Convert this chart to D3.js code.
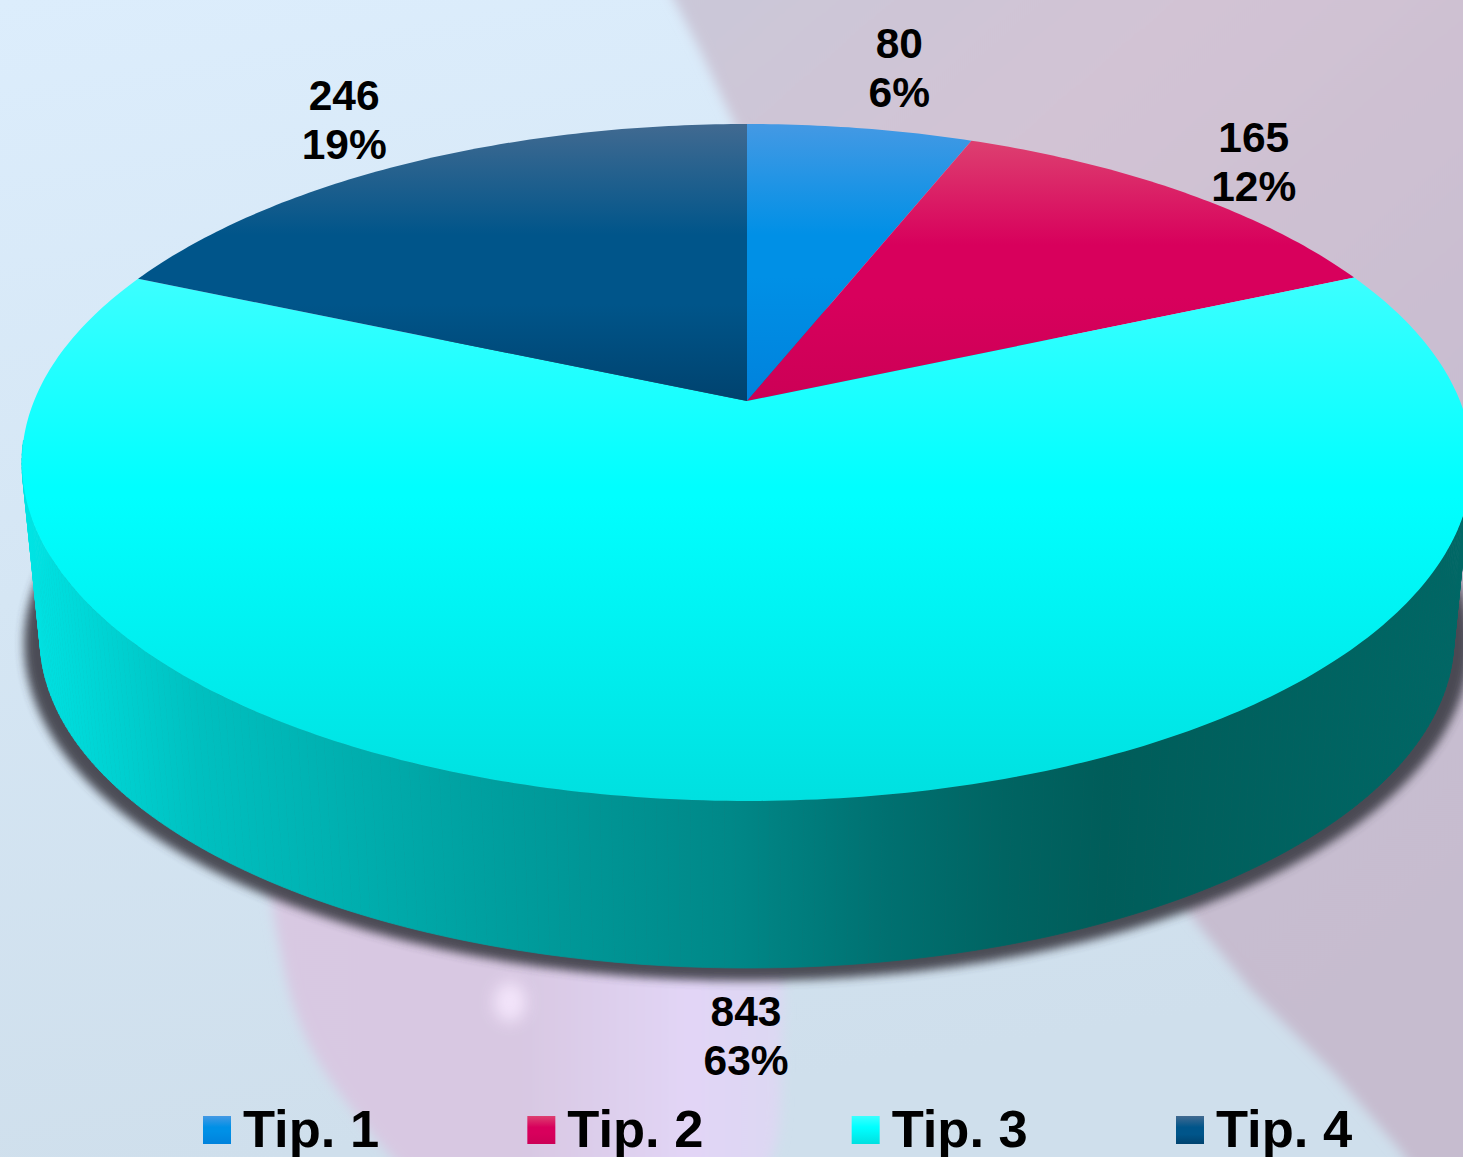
<!DOCTYPE html>
<html><head><meta charset="utf-8">
<script src="https://cdn.jsdelivr.net/npm/d3@7/dist/d3.min.js"></script>
<style>html,body{margin:0;padding:0;overflow:hidden;background:#d6e6f4}svg{display:block}text{font-family:"Liberation Sans",Arial,sans-serif;font-weight:700;fill:#000}</style>
</head><body><svg id="c" width="1463" height="1157"></svg>
<script>
const categories = ["Tip. 1", "Tip. 2", "Tip. 3", "Tip. 4"];
const values = [80, 165, 843, 246];
const percents = [6, 12, 63, 19];
const colors = ["#0090e6", "#d8005c", "#00ffff", "#00558a"];
const topColors = ["#4499e4", "#dd4070", "#3cffff", "#416a91"];
const bottomColors = ["#0082dc", "#cc0056", "#00e0e0", "#00436f"];
const plateauEnd = [0.55, 0.6, 0.42, 0.65];
const labelOffsets = [[39,-70],[70,-40],[-3,225],[-64,-53]];

const W = 1463, H = 1157, cx = 747, apexY = 401, persp = 0.1817, R = 713, B = 327.3;
const wallY = 578, wallS = 0.975;
const svg = d3.select("#c");
const defs = svg.append("defs");

// perspective projection of the unit disc
const sx = d3.scaleLinear().domain([-1,1]).range([-R,R]);
const sy = d3.scaleLinear().domain([-1,1]).range([B,-B]);
function proj(a, s=1, y0=apexY){
  const u=Math.sin(a), v=Math.cos(a), d=1+persp*v;
  return [cx+s*sx(u)/d, y0+s*sy(v)/d];
}
const line = d3.line();
const step = Math.PI/240;
const arcs = d3.pie().sort(null)(values);

function vGrad(id, stops, attrs={}){
  const g = defs.append("linearGradient").attr("id",id);
  Object.entries(attrs).forEach(([k,v])=>g.attr(k,v));
  stops.forEach(([o,c])=>g.append("stop").attr("offset",o).attr("stop-color",c));
}
colors.forEach((c,i)=>{
  vGrad("s"+i,[[0,topColors[i]],[0.4,c],[plateauEnd[i],c],[1,bottomColors[i]]],{x1:0,y1:0,x2:0,y2:1});
});
// background
vGrad("bg",[[0,"#dcedfc"],[0.5,"#d5e6f4"],[1,"#cfdfec"]],{x1:0,y1:0,x2:0.2,y2:1});
vGrad("pk",[[0,"#cac8d9"],[0.3,"#d2c3d4"],[0.7,"#c8bdd0"],[1,"#c6bccf"]],{x1:0,y1:0,x2:0.6,y2:1});
vGrad("lav",[[0,"#d8c9e2"],[0.5,"#d8c8e2"],[0.82,"#e2d5f6"],[1,"#dcd8f2"]],{x1:0,y1:0,x2:1,y2:0});
defs.append("filter").attr("id","soft").attr("x","-10%").attr("y","-10%").attr("width","120%").attr("height","120%")
  .append("feGaussianBlur").attr("stdDeviation",6);
defs.append("filter").attr("id","glow").attr("x","-100%").attr("y","-100%").attr("width","300%").attr("height","300%")
  .append("feGaussianBlur").attr("stdDeviation",8);
defs.append("filter").attr("id","shadow").attr("x","-5%").attr("y","-5%").attr("width","110%").attr("height","110%")
  .append("feGaussianBlur").attr("stdDeviation",5);

svg.append("rect").attr("width",W).attr("height",H).attr("fill","url(#bg)");
const bgG = svg.append("g").attr("filter","url(#soft)");
bgG.append("path").attr("fill","url(#pk)")
  .attr("d",line([[664,-20],[700,50],[735,125],[1192,917],[1251,990],[1334,1073],[1400,1150],[1420,1180],[1490,1180],[1490,-20]]));
bgG.append("path").attr("fill","url(#lav)")
  .attr("d",d3.line().curve(d3.curveBasis)([[262,830],[265,860],[279,950],[302,1050],[385,1150],[430,1200],[600,1220],[775,1200],[782,1100],[782,1000],[790,830],[262,830]]));
svg.append("ellipse").attr("cx",510).attr("cy",1002).attr("rx",16).attr("ry",20)
  .attr("fill","#f8eaff").attr("opacity",0.85).attr("filter","url(#glow)");

// shadow
const fullA = d3.range(0,2*Math.PI+step,step);
svg.append("path").attr("fill","#3f3f4a").attr("opacity",0.92).attr("filter","url(#shadow)")
  .attr("d",line(fullA.map(a=>proj(a,0.997,582)))+"Z");

// wall
vGrad("wall",[[0,"#00e4e4"],[0.12,"#00c0c0"],[0.33,"#009e9e"],[0.49,"#008888"],[0.6,"#007070"],[0.68,"#006462"],[0.75,"#005d5a"],[1,"#006765"]],
  {gradientUnits:"userSpaceOnUse",x1:25,y1:0,x2:1465,y2:0});
const wallG = svg.append("g").attr("fill","url(#wall)").attr("stroke","url(#wall)").attr("stroke-width",0.8);
d3.range(0,2*Math.PI,step).forEach(a=>{
  const b=a+step;
  if(Math.cos(a)>-0.12) return;
  wallG.append("path").attr("d",line([proj(a),proj(b),proj(b,wallS,wallY),proj(a,wallS,wallY)])+"Z");
});

// top slices
svg.append("g").selectAll("path").data(arcs).join("path")
  .attr("fill",(d,i)=>"url(#s"+i+")")
  .attr("d",d=>{
    const n=Math.ceil((d.endAngle-d.startAngle)/step);
    const pts=[[cx,apexY]];
    d3.range(n+1).forEach(k=>pts.push(proj(d.startAngle+(d.endAngle-d.startAngle)*k/n)));
    return line(pts)+"Z";
  });

// labels
const lab = svg.append("g").attr("text-anchor","middle").attr("font-size",42.5);
arcs.forEach((d,i)=>{
  const p=proj((d.startAngle+d.endAngle)/2), o=labelOffsets[i];
  lab.append("text").attr("x",p[0]+o[0]).attr("y",p[1]+o[1]).text(values[i]);
  lab.append("text").attr("x",p[0]+o[0]).attr("y",p[1]+o[1]+49).text(percents[i]+"%");
});

// legend
const lx = d3.scalePoint().domain(categories).range([203,1176]);
const lg = svg.append("g").selectAll("g").data(categories).join("g")
  .attr("transform",d=>`translate(${lx(d)},1116)`);
lg.append("rect").attr("width",28).attr("height",28).attr("fill",(d,i)=>"url(#s"+i+")");
lg.append("text").attr("x",40).attr("y",31).attr("font-size",52.5).text(d=>d);
</script></body></html>
